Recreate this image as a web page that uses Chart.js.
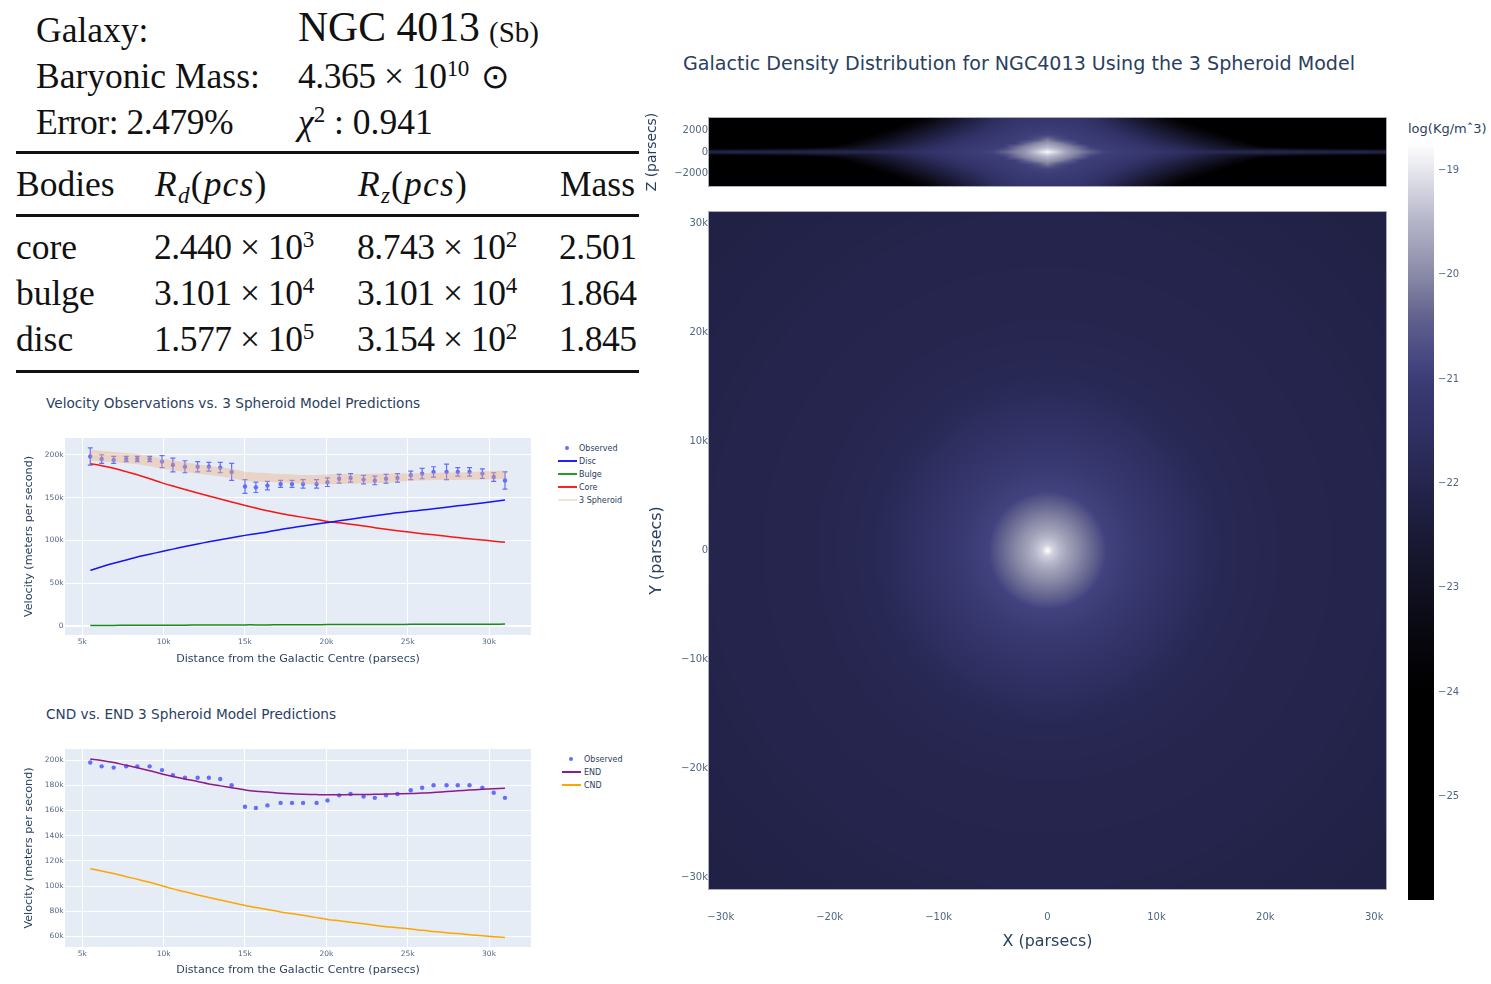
<!DOCTYPE html>
<html>
<head>
<meta charset="utf-8">
<title>NGC 4013</title>
<script src="https://cdn.jsdelivr.net/npm/chart.js@4"></script>
<style>
  html, body { margin: 0; padding: 0; background: #fff; }
  body { position: relative; width: 1491px; height: 984px; overflow: hidden; }
  canvas { position: absolute; }
  .t { position: absolute; white-space: nowrap; line-height: 1; font-family: "Liberation Serif", serif; font-size: 35.5px; color: #111; }
  .n { letter-spacing: -0.45px; }
  .w { letter-spacing: 1.2px; }
  .t sup { font-size: 65%; line-height: 0; vertical-align: 0.5em; }
  .t sub { font-size: 65%; line-height: 0; vertical-align: -0.3em; font-style: italic; }
  .i { font-style: italic; }
  .rule { position: absolute; left: 16px; width: 623px; background: #111; }
  .p { position: absolute; white-space: nowrap; font-family: "DejaVu Sans", sans-serif; color: #2a3f5f; line-height: 1; }
  .leg { position: absolute; white-space: nowrap; font: 8px "DejaVu Sans", sans-serif; color: #2a3f5f; line-height: 1; }
  .sw { position: absolute; height: 1.5px; width: 19px; }
  .dot { position: absolute; width: 4px; height: 4px; border-radius: 50%; background: #636efa; }
</style>
</head>
<body>

<div class="t" style="left:36px;top:13px">Galaxy:</div>
<div class="t" style="left:298px;top:7px;font-size:41.7px">NGC 4013</div>
<div class="t" style="left:489px;top:18px;font-size:29px">(Sb)</div>
<div class="t" style="left:36px;top:59px">Baryonic Mass:</div>
<div class="t n" style="left:298px;top:59px">4.365 × 10<sup>10</sup></div>
<div class="t" style="left:481px;top:59px;font-family:'DejaVu Sans';font-size:34px">⊙</div>
<div class="t n" style="left:36px;top:105px">Error: 2.479%</div>
<div class="t" style="left:298px;top:105px"><span class="i">χ</span><sup>2</sup> : 0.941</div>
<div class="rule" style="top:151px;height:3px"></div>
<div class="t" style="left:16px;top:167px">Bodies</div>
<div class="t w" style="left:155px;top:167px"><span class="i">R<sub>d</sub></span>(<span class="i">pcs</span>)</div>
<div class="t w" style="left:358px;top:167px"><span class="i">R<sub>z</sub></span>(<span class="i">pcs</span>)</div>
<div class="t" style="left:560px;top:167px">Mass</div>
<div class="rule" style="top:214px;height:2.5px"></div>
<div class="t" style="left:16px;top:230px">core</div>
<div class="t n" style="left:154px;top:230px">2.440 × 10<sup>3</sup></div>
<div class="t n" style="left:357px;top:230px">8.743 × 10<sup>2</sup></div>
<div class="t n" style="left:559px;top:230px">2.501</div>
<div class="t" style="left:16px;top:276px">bulge</div>
<div class="t n" style="left:154px;top:276px">3.101 × 10<sup>4</sup></div>
<div class="t n" style="left:357px;top:276px">3.101 × 10<sup>4</sup></div>
<div class="t n" style="left:559px;top:276px">1.864</div>
<div class="t" style="left:16px;top:322px">disc</div>
<div class="t n" style="left:154px;top:322px">1.577 × 10<sup>5</sup></div>
<div class="t n" style="left:357px;top:322px">3.154 × 10<sup>2</sup></div>
<div class="t n" style="left:559px;top:322px">1.845</div>
<div class="rule" style="top:370px;height:3px"></div>

<div class="p" style="left:46px;top:397px;font-size:13.65px">Velocity Observations vs. 3 Spheroid Model Predictions</div>
<div class="p" style="left:46px;top:708px;font-size:13.65px">CND vs. END 3 Spheroid Model Predictions</div>
<div class="p" style="left:683px;top:54px;font-size:19.1px">Galactic Density Distribution for NGC4013 Using the 3 Spheroid Model</div>
<div class="p" style="left:1408px;top:122px;font-size:13px">log(Kg/mˆ3)</div>

<div class="dot" style="left:565px;top:446px"></div><div class="leg" style="left:579px;top:445px">Observed</div>
<div class="sw" style="left:558px;top:460px;background:#1f1fff"></div><div class="leg" style="left:579px;top:458px">Disc</div>
<div class="sw" style="left:558px;top:473px;background:#2a9a2a"></div><div class="leg" style="left:579px;top:471px">Bulge</div>
<div class="sw" style="left:558px;top:486px;background:#ff2020"></div><div class="leg" style="left:579px;top:484px">Core</div>
<div class="sw" style="left:558px;top:499px;background:#f6e2d4"></div><div class="leg" style="left:579px;top:497px">3 Spheroid</div>

<div class="dot" style="left:569px;top:757px"></div><div class="leg" style="left:584px;top:756px">Observed</div>
<div class="sw" style="left:562px;top:771px;background:#8b1a9b"></div><div class="leg" style="left:584px;top:769px">END</div>
<div class="sw" style="left:562px;top:784px;background:#ffa500"></div><div class="leg" style="left:584px;top:782px">CND</div>

<canvas id="velChart" width="520" height="240" style="left:20px;top:430px"></canvas>
<canvas id="cndChart" width="520" height="241" style="left:20px;top:741px"></canvas>
<canvas id="edgeChart" width="755" height="90" style="left:640px;top:105px"></canvas>
<canvas id="faceChart" width="750" height="750" style="left:645px;top:205px"></canvas>
<canvas id="barChart" width="70" height="765" style="left:1408px;top:141px"></canvas>

<script>
// radius in thousands of parsecs, velocities in thousands of m/s
const radius = [5.49, 6.19, 6.93, 7.70, 8.38, 9.14, 9.90, 10.57, 11.31, 12.09, 12.78, 13.48, 14.18, 15.00, 15.67, 16.38, 17.19, 17.89,
  18.57, 19.40, 20.07, 20.79, 21.49, 22.29, 22.98, 23.67, 24.37, 25.19, 25.89, 26.59, 27.39, 28.08, 28.80, 29.59, 30.29, 30.98];
const observed = [198, 195, 194, 195, 195, 195, 192, 188, 186, 186, 186, 185, 180, 163, 162, 164, 166, 166,
  166, 166, 168, 172, 173, 171, 170, 172, 173, 176, 178, 180, 180, 180, 180, 178, 174, 170];
const observedErr = [10, 5, 4, 3, 3, 3, 7, 8, 7, 6, 5, 6, 10, 8, 6, 5, 4, 4,
  5, 5, 5, 5, 5, 5, 5, 5, 5, 5, 6, 6, 9, 5, 5, 5.5, 5, 10];
const disc = [65.2, 69.5, 73.6, 77.3, 80.7, 84, 87.2, 90, 93, 96, 98.5, 101, 103.3, 106, 108, 110, 112.8, 115,
  117, 119.3, 121, 123, 124.8, 127, 128.8, 130.5, 132.3, 134, 135.6, 137, 138.8, 140.4, 142, 143.8, 145.4, 147.2];
const bulge = [1.0, 1.1, 1.1, 1.2, 1.2, 1.3, 1.3, 1.4, 1.4, 1.5, 1.5, 1.6, 1.6, 1.7, 1.7, 1.7, 1.8, 1.8,
  1.9, 1.9, 2.0, 2.0, 2.0, 2.1, 2.1, 2.2, 2.2, 2.3, 2.3, 2.3, 2.4, 2.4, 2.5, 2.5, 2.5, 2.6];
const core = [189.5, 187.2, 184.2, 180.3, 176.7, 172, 167.2, 163.5, 159.5, 155.5, 152, 148.5, 145, 140.8, 137.8, 134.7, 131.6, 129.2,
  127, 124.5, 122.3, 120.6, 119, 117, 115, 113.2, 111.5, 109.6, 108, 106.6, 105, 103.5, 102, 100.6, 99.2, 98];
const spheroidHi = [205.8, 204.5, 203.3, 202, 200.8, 198.3, 195.7, 193.5, 191, 189, 187, 185.3, 183.6, 180.2, 179.2, 178.4, 177.5, 177,
  176.4, 176.5, 177, 177.2, 177.4, 177.6, 177.7, 177.9, 178, 178.2, 178.4, 178.8, 179.2, 179.4, 180, 180.6, 181.1, 181.7];
const spheroidLo = [193, 192.2, 191.3, 190.2, 189, 186.7, 184, 182, 180, 178.2, 176.3, 174.6, 172.9, 169.7, 168.8, 168.2, 167.8, 167,
  166, 165.5, 165.6, 166, 166.3, 166.6, 166.7, 167.2, 168.5, 169.7, 170, 170.3, 170.5, 170.6, 170.8, 171, 171.2, 171.3];
const end = [200.8, 199.7, 198, 195.8, 193.8, 191.5, 189, 187, 185, 183, 181, 179.5, 178, 176.3, 175.3, 174.6, 173.7, 173.2,
  172.9, 172.6, 172.4, 172.4, 172.6, 172.7, 172.8, 173, 173.2, 173.4, 173.8, 174.2, 175, 175.6, 176.2, 176.8, 177.2, 177.6];
const cnd = [113.8, 112, 110, 107.5, 105.5, 103, 100.3, 97.8, 95.5, 93, 91, 89, 87, 84.6, 83, 81.5, 79.5, 78.2,
  76.8, 75, 73.6, 72.5, 71.4, 70.1, 68.9, 67.8, 67, 66, 64.9, 64, 63, 62.4, 61.5, 60.6, 59.9, 59.3];

// face-on panel: log density against distance from the centre (thousands of parsecs)
const faceRadius = [0, 0.25, 0.5, 1, 1.8, 3, 4.3, 5, 5.4, 6.7, 9.2, 13, 16, 22, 31, 44];
const faceLogRho = [-18.74, -18.95, -19.2, -19.4, -19.7, -20.05, -20.4, -20.7, -20.9, -20.98, -21.25, -21.6, -21.85, -22, -22.05, -22.2];

// edge-on panel: log density, rows by |z|, columns by |x| (thousands of parsecs)
const edgeX = [0, 1, 2, 3, 4, 5, 6, 8, 10, 12, 14, 16, 18, 20, 24, 31.1];
const edgeZ = [0, 0.1, 0.25, 0.5, 0.8, 1.2, 1.6, 2, 2.5, 3.16];
const edgeLogRho = [
  [-18.74, -19.3, -19.8, -20.1, -20.4, -20.88, -20.98, -21.05, -21.25, -21.5, -21.7, -21.85, -21.95, -22, -22, -22.05],
  [-18.95, -19.35, -19.85, -20.15, -20.5, -20.88, -21, -21.1, -21.3, -21.55, -21.85, -22, -22.1, -22.15, -22.25, -22.3],
  [-19.2, -19.5, -19.9, -20.25, -20.75, -20.98, -21.02, -21.15, -21.4, -21.7, -22.1, -22.5, -22.75, -22.9, -23.2, -23.6],
  [-19.5, -19.75, -20.05, -20.4, -20.98, -21, -21.05, -21.2, -21.5, -21.85, -22.3, -22.8, -23.3, -23.9, -24.6, -25],
  [-19.8, -20, -20.4, -20.98, -21, -21.05, -21.12, -21.35, -21.7, -22.1, -22.6, -23.1, -23.7, -24.3, -25, -25],
  [-20.2, -20.7, -20.95, -21, -21.05, -21.12, -21.22, -21.5, -21.95, -22.4, -23, -23.5, -24.1, -24.7, -25, -25],
  [-20.88, -20.92, -20.98, -21.05, -21.12, -21.22, -21.35, -21.7, -22.2, -22.7, -23.3, -23.9, -24.4, -25, -25, -25],
  [-21, -21.02, -21.05, -21.12, -21.22, -21.35, -21.5, -21.95, -22.45, -23.05, -23.7, -24.2, -24.8, -25, -25, -25],
  [-21.1, -21.12, -21.16, -21.22, -21.35, -21.5, -21.7, -22.25, -22.85, -23.5, -24.1, -24.6, -25, -25, -25, -25],
  [-21.25, -21.27, -21.3, -21.35, -21.5, -21.7, -22, -22.6, -23.3, -24, -24.5, -25, -25, -25, -25, -25]
];

// colour bar
const scaleValues = [-26, -24, -23.5, -23, -22.5, -22, -21.5, -21, -20.88, -20.4, -20, -19.5, -19, -18.74];
const scaleColours = [[0, 0, 0], [0, 0, 0], [7, 7, 14], [17, 17, 34], [26, 26, 54], [37, 37, 78], [48, 48, 100], [60, 60, 118], [67, 67, 128],
  [98, 98, 142], [138, 138, 168], [180, 180, 200], [230, 230, 238], [255, 255, 255]];

const TICK = '#506784';
const INK = '#2a3f5f';
const FONT = '"DejaVu Sans", sans-serif';

function lerpTable(xs, ys, q) {
  if (q <= xs[0]) return ys[0];
  for (let i = 1; i < xs.length; i++) {
    if (q <= xs[i]) return ys[i - 1] + (ys[i] - ys[i - 1]) * (q - xs[i - 1]) / (xs[i] - xs[i - 1]);
  }
  return ys[ys.length - 1];
}

function colourFor(v) {
  return [0, 1, 2].map(c => lerpTable(scaleValues, scaleColours.map(k => k[c]), v));
}

function faceValue(x, y) {
  return lerpTable(faceRadius, faceLogRho, Math.hypot(x, y));
}

function edgeValue(x, z) {
  const col = edgeZ.map((_, r) => lerpTable(edgeX, edgeLogRho[r], Math.abs(x)));
  return lerpTable(edgeZ, col, Math.abs(z));
}

// paints the panel pixel by pixel through the chart's own scales
function heatPlugin(lookup) {
  return {
    id: 'heat',
    beforeDatasetsDraw(chart) {
      const { ctx, chartArea: a, scales } = chart;
      const w = Math.round(a.right - a.left), h = Math.round(a.bottom - a.top);
      const lut = new Map();
      const img = ctx.createImageData(w, h);
      for (let j = 0; j < h; j++) {
        const yv = scales.y.getValueForPixel(a.top + j + 0.5);
        for (let i = 0; i < w; i++) {
          const xv = scales.x.getValueForPixel(a.left + i + 0.5);
          const key = Math.round(lookup(xv, yv) * 200);
          if (!lut.has(key)) lut.set(key, colourFor(key / 200));
          const c = lut.get(key), o = (j * w + i) * 4;
          img.data[o] = c[0]; img.data[o + 1] = c[1]; img.data[o + 2] = c[2]; img.data[o + 3] = 255;
        }
      }
      ctx.putImageData(img, Math.round(a.left), Math.round(a.top));
      ctx.strokeStyle = 'rgba(150,150,175,0.8)';
      ctx.lineWidth = 1;
      ctx.strokeRect(Math.round(a.left) - 0.5, Math.round(a.top) - 0.5, w + 1, h + 1);
    }
  };
}

const plotBg = {
  id: 'plotBg',
  beforeDraw(chart) {
    const { ctx, chartArea: a } = chart;
    ctx.fillStyle = '#e5ecf6';
    ctx.fillRect(a.left, a.top, a.right - a.left, a.bottom - a.top);
  }
};

const errorBars = {
  id: 'errorBars',
  beforeDatasetsDraw(chart) {
    const { ctx, scales: { x, y } } = chart;
    ctx.save();
    ctx.strokeStyle = '#636efa';
    ctx.lineWidth = 1.2;
    radius.forEach((r, i) => {
      const px = x.getPixelForValue(r);
      const top = y.getPixelForValue(observed[i] + observedErr[i]);
      const bot = y.getPixelForValue(observed[i] - observedErr[i]);
      ctx.beginPath();
      ctx.moveTo(px, top); ctx.lineTo(px, bot);
      ctx.moveTo(px - 2.5, top); ctx.lineTo(px + 2.5, top);
      ctx.moveTo(px - 2.5, bot); ctx.lineTo(px + 2.5, bot);
      ctx.stroke();
    });
    ctx.restore();
  }
};

const xy = ys => radius.map((r, i) => ({ x: r, y: ys[i] }));
const kLabel = v => (v < 0 ? '\u2212' : '') + (v === 0 ? '0' : Math.abs(v) + 'k');
const minusLabel = v => (v < 0 ? '\u2212' : '') + Math.abs(Math.round(v));

// keep the plot box where it is, whatever the edge tick labels want
const fixWidth = n => s => { s.width = n; s.paddingTop = 0; s.paddingBottom = 0; };
const fixHeight = n => s => { s.height = n; s.paddingLeft = 0; s.paddingRight = 0; };

function lineDs(data, colour, order) {
  return { data: xy(data), borderColor: colour, borderWidth: 1.5, pointRadius: 0, tension: 0.3, fill: false, order };
}
function obsDs() {
  return { data: xy(observed), showLine: false, pointRadius: 2.2, pointBorderWidth: 0, pointBackgroundColor: '#636efa', order: 5 };
}

function velocityOptions(yMin, yMax, yStep, xTitleBottom) {
  return {
    responsive: false,
    devicePixelRatio: 1,
    animation: false,
    layout: { padding: { top: 8, right: 9, left: 0, bottom: 0 } },
    plugins: { legend: { display: false }, tooltip: { enabled: false } },
    scales: {
      x: {
        type: 'linear', min: 3.937, max: 32.58,
        afterFit: fixHeight(35),
        grid: { color: '#fff', lineWidth: 1, drawTicks: false },
        border: { display: false },
        title: { display: true, text: 'Distance from the Galactic Centre (parsecs)', color: INK, font: { family: FONT, size: 11.1 }, padding: { top: 0, bottom: xTitleBottom } },
        ticks: { stepSize: 5, includeBounds: false, autoSkip: false, maxRotation: 0, padding: 3, color: TICK, font: { family: FONT, size: 7.5 }, callback: kLabel }
      },
      y: {
        min: yMin, max: yMax,
        afterFit: fixWidth(45),
        grid: { color: '#fff', lineWidth: c => (c.tick.value === 0 ? 2 : 1), drawTicks: false },
        border: { display: false },
        title: { display: true, text: 'Velocity (meters per second)', color: INK, font: { family: FONT, size: 11.2 }, padding: { top: 2.3, bottom: 0 } },
        ticks: { stepSize: yStep, includeBounds: false, autoSkip: false, padding: 1.5, color: TICK, font: { family: FONT, size: 7.5 }, callback: kLabel }
      }
    }
  };
}

new Chart(document.getElementById('velChart'), {
  type: 'line',
  data: {
    datasets: [
      { data: xy(spheroidHi), borderWidth: 0, borderColor: 'transparent', pointRadius: 0, tension: 0.3, fill: '+1', backgroundColor: 'rgba(240,170,120,0.38)', order: 0 },
      { data: xy(spheroidLo), borderWidth: 0, borderColor: 'transparent', pointRadius: 0, tension: 0.3, fill: false, order: 0 },
      obsDs(),
      lineDs(disc, '#1414f5', 3),
      lineDs(bulge, '#188c18', 3),
      lineDs(core, '#fa1414', 3)
    ]
  },
  options: velocityOptions(-10.1, 219.5, 50, 4.6),
  plugins: [plotBg, errorBars]
});

new Chart(document.getElementById('cndChart'), {
  type: 'line',
  data: {
    datasets: [
      lineDs(end, '#8b1a8b', 1),
      lineDs(cnd, '#ffa500', 1),
      obsDs()
    ]
  },
  options: velocityOptions(51.7, 208.75, 20, 5.4),
  plugins: [plotBg]
});

function heatAxis(extra) {
  return Object.assign({
    type: 'linear',
    grid: { display: false, drawTicks: false },
    border: { display: false }
  }, extra);
}

new Chart(document.getElementById('faceChart'), {
  type: 'scatter',
  data: { datasets: [{ data: faceRadius.map((r, i) => ({ x: r, y: 0, v: faceLogRho[i] })), pointRadius: 0 }] },
  options: {
    responsive: false, devicePixelRatio: 1, animation: false,
    layout: { padding: { top: 7, right: 9, left: 0, bottom: 0 } },
    plugins: { legend: { display: false }, tooltip: { enabled: false } },
    scales: {
      x: heatAxis({
        min: -31.08, max: 31.08,
        afterFit: fixHeight(66),
        title: { display: true, text: 'X (parsecs)', color: INK, font: { family: FONT, size: 15.9 }, padding: { top: 0, bottom: 4 } },
        ticks: { stepSize: 10, includeBounds: false, autoSkip: false, maxRotation: 0, padding: 22, color: TICK, font: { family: FONT, size: 10 }, callback: kLabel }
      }),
      y: heatAxis({
        min: -31.08, max: 31.08,
        afterFit: fixWidth(64),
        title: { display: true, text: 'Y (parsecs)', color: INK, font: { family: FONT, size: 15.9 }, padding: { top: 2.5, bottom: 0 } },
        ticks: { stepSize: 10, includeBounds: false, autoSkip: false, padding: 1, color: TICK, font: { family: FONT, size: 10 }, callback: kLabel }
      })
    }
  },
  plugins: [heatPlugin(faceValue)]
});

new Chart(document.getElementById('edgeChart'), {
  type: 'scatter',
  data: { datasets: [{ data: edgeZ.flatMap((z, r) => edgeX.map((x, c) => ({ x, y: z, v: edgeLogRho[r][c] }))), pointRadius: 0 }] },
  options: {
    responsive: false, devicePixelRatio: 1, animation: false,
    layout: { padding: { top: 13, right: 9, left: 0, bottom: 9 } },
    plugins: { legend: { display: false }, tooltip: { enabled: false } },
    scales: {
      x: heatAxis({ display: false, min: -31.08, max: 31.08 }),
      y: heatAxis({
        min: -3.16, max: 3.16,
        afterFit: fixWidth(69),
        title: { display: true, text: 'Z (parsecs)', color: INK, font: { family: FONT, size: 13.9 }, padding: { top: 3.7, bottom: 0 } },
        ticks: { stepSize: 2, includeBounds: false, autoSkip: false, padding: 1, color: TICK, font: { family: FONT, size: 10 }, callback: v => minusLabel(v * 1000) }
      })
    }
  },
  plugins: [heatPlugin(edgeValue)]
});

new Chart(document.getElementById('barChart'), {
  type: 'bar',
  data: {
    labels: ['log(Kg/m^3)'],
    datasets: [{
      data: [[-25.99, -18.74]],
      barPercentage: 1,
      categoryPercentage: 1,
      backgroundColor(c) {
        const a = c.chart.chartArea;
        if (!a) return '#000';
        const g = c.chart.ctx.createLinearGradient(0, a.bottom, 0, a.top);
        scaleValues.forEach((v, i) => {
          g.addColorStop(Math.max(0, (v + 25.99) / 7.25), 'rgb(' + scaleColours[i].join(',') + ')');
        });
        return g;
      }
    }]
  },
  options: {
    responsive: false, devicePixelRatio: 1, animation: false,
    layout: { padding: { top: 2, bottom: 6, left: 0, right: 0 } },
    plugins: { legend: { display: false }, tooltip: { enabled: false } },
    scales: {
      x: { display: false },
      y: {
        position: 'right',
        min: -25.99, max: -18.74,
        afterFit: fixWidth(44),
        grid: { display: false, drawTicks: false },
        border: { display: false },
        ticks: { stepSize: 1, includeBounds: false, autoSkip: false, padding: 4, color: TICK, font: { family: FONT, size: 10 }, callback: minusLabel }
      }
    }
  }
});
</script>
</body>
</html>
